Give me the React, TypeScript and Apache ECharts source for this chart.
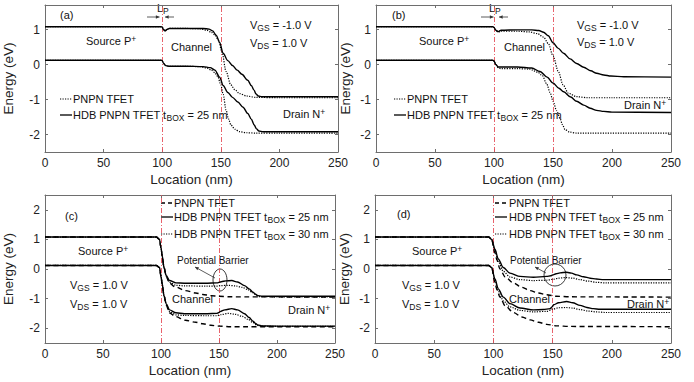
import React, { useEffect, useRef } from "react";
import * as echarts from "echarts";

const FONT = '"Liberation Sans", Arial, Helvetica, sans-serif';

// ---------------- data (Location nm, Energy eV) ----------------
// Panel (a)
const aHdbCbX = [0, 99, 100, 101, 102.5, 104, 106, 120, 135, 140, 143, 146, 149, 152, 156, 160, 164, 168, 173, 176, 178.5, 180, 182, 185, 200, 250];
const aHdbCbY = [1.08, 1.08, 1.07, 1.0, 0.96, 1.0, 1.03, 1.03, 1.03, 1.01, 0.96, 0.84, 0.63, 0.32, 0.11, -0.03, -0.16, -0.28, -0.45, -0.6, -0.74, -0.84, -0.9, -0.92, -0.92, -0.92];
const aPnCbX = [0, 99, 100, 101, 102.5, 104, 106, 120, 132, 138, 142, 145, 148, 151, 154.5, 158.5, 162, 166, 172, 180, 200, 250];
const aPnCbY = [1.08, 1.08, 1.07, 1.0, 0.96, 1.0, 1.03, 1.03, 1.02, 0.98, 0.92, 0.84, 0.7, 0.35, -0.2, -0.58, -0.72, -0.83, -0.9, -0.94, -0.95, -0.95];
const aHdbVbX = [0, 99, 100, 101, 102.5, 104, 106, 120, 135, 141, 145, 149, 152, 156, 160, 164.5, 169, 173, 176, 178.5, 180.5, 182.5, 186, 200, 250];
const aHdbVbY = [0.12, 0.12, 0.11, 0.04, -0.02, -0.04, -0.05, -0.05, -0.06, -0.09, -0.16, -0.36, -0.6, -0.8, -0.94, -1.07, -1.22, -1.4, -1.56, -1.73, -1.84, -1.9, -1.92, -1.92, -1.92];
const aPnVbX = [0, 99, 100, 101, 102.5, 104, 106, 120, 132, 138, 142, 145, 147.5, 150, 152, 154.5, 156.5, 158.7, 162, 166, 172, 180, 200, 250];
const aPnVbY = [0.12, 0.12, 0.11, 0.04, -0.02, -0.04, -0.05, -0.05, -0.06, -0.1, -0.16, -0.24, -0.35, -0.58, -0.85, -1.3, -1.55, -1.73, -1.85, -1.92, -1.95, -1.96, -1.96, -1.96];

// Panel (b)
const bHdbCbX = [0, 99, 100, 101.5, 103.5, 106, 120, 132, 138, 142, 146, 150, 154.5, 159, 164.5, 170, 176, 182, 187, 193, 199, 210, 250];
const bHdbCbY = [1.08, 1.08, 1.06, 0.98, 0.94, 0.98, 0.99, 0.99, 0.97, 0.92, 0.82, 0.62, 0.46, 0.32, 0.16, 0.03, -0.08, -0.18, -0.25, -0.3, -0.33, -0.35, -0.36];
const bPnCbX = [0, 99, 100, 101.5, 103.5, 106, 120, 130, 137, 142, 146, 150, 154.5, 158.5, 163, 170, 180, 200, 250];
const bPnCbY = [1.08, 1.08, 1.06, 0.98, 0.93, 0.95, 0.95, 0.93, 0.88, 0.78, 0.6, 0.25, -0.2, -0.58, -0.82, -0.92, -0.95, -0.95, -0.95];
const bHdbVbX = [0, 99, 100, 101.5, 103.5, 106, 120, 132, 139, 145, 150, 155, 159, 165, 170, 176, 181.5, 187, 193, 200, 250];
const bHdbVbY = [0.12, 0.12, 0.1, 0.0, -0.07, -0.07, -0.07, -0.1, -0.2, -0.36, -0.53, -0.68, -0.78, -0.93, -1.05, -1.16, -1.25, -1.31, -1.34, -1.36, -1.37];
const bPnVbX = [0, 99, 100, 101.5, 103.5, 106, 120, 130, 137, 141, 144.6, 147.5, 150.2, 153, 155.9, 158, 160.2, 164, 170, 250];
const bPnVbY = [0.12, 0.12, 0.1, 0.0, -0.09, -0.12, -0.12, -0.13, -0.22, -0.32, -0.55, -0.8, -1.06, -1.32, -1.53, -1.72, -1.86, -1.93, -1.96, -1.96];

// Panel (c)
const cPnCbX = [0, 96, 98.7, 100, 101, 102.6, 104.5, 107.3, 112, 121, 130, 136, 143, 150, 160, 250];
const cPnCbY = [1.08, 1.08, 1.0, 0.72, 0.45, 0.05, -0.25, -0.48, -0.6, -0.73, -0.81, -0.86, -0.9, -0.92, -0.94, -0.95];
const c25CbX = [0, 96, 98.7, 100, 101, 102.6, 104.5, 107.3, 112.9, 120, 140, 148, 152, 156, 161, 166, 172, 176, 179.2, 181.5, 183.5, 187, 200, 250];
const c25CbY = [1.08, 1.08, 1.0, 0.72, 0.45, 0.05, -0.22, -0.39, -0.47, -0.48, -0.48, -0.47, -0.43, -0.4, -0.39, -0.44, -0.56, -0.67, -0.78, -0.85, -0.9, -0.92, -0.92, -0.92];
const c30CbX = [0, 96, 98.7, 100, 101, 102.6, 104.5, 107.3, 112.9, 120, 140, 148, 152, 158, 164, 170, 175, 179, 182, 185, 200, 250];
const c30CbY = [1.08, 1.08, 1.0, 0.72, 0.45, 0.05, -0.25, -0.45, -0.55, -0.57, -0.58, -0.58, -0.56, -0.55, -0.57, -0.62, -0.7, -0.8, -0.88, -0.93, -0.94, -0.94];
const cPnVbX = [0, 96, 98.7, 100, 101, 102.6, 104.5, 107.3, 112, 121, 130, 136, 143, 150, 160, 250];
const cPnVbY = [0.12, 0.12, 0.05, -0.25, -0.5, -0.9, -1.22, -1.48, -1.6, -1.73, -1.8, -1.85, -1.9, -1.93, -1.95, -1.95];
const c25VbX = [0, 96, 98.7, 100, 101, 102.6, 104.5, 107.3, 112.9, 120, 140, 148, 149.5, 151, 155, 161, 166, 172, 176, 179.2, 181.5, 183.5, 187, 200, 250];
const c25VbY = [0.12, 0.12, 0.05, -0.25, -0.5, -0.9, -1.17, -1.38, -1.48, -1.51, -1.51, -1.5, -1.48, -1.44, -1.38, -1.34, -1.38, -1.51, -1.64, -1.76, -1.84, -1.89, -1.92, -1.93, -1.93];
const c30VbX = [0, 96, 98.7, 100, 101, 102.6, 104.5, 107.3, 112.9, 120, 140, 148, 152, 158, 164, 170, 175, 179, 182, 185, 200, 250];
const c30VbY = [0.12, 0.12, 0.05, -0.25, -0.5, -0.9, -1.2, -1.44, -1.55, -1.57, -1.58, -1.58, -1.54, -1.5, -1.53, -1.6, -1.7, -1.8, -1.88, -1.93, -1.94, -1.94];

// Panel (d)
const dPnCbX = [0, 96, 98.5, 101.3, 103, 105.5, 110, 116.9, 124, 131, 138, 145, 153, 165, 250];
const dPnCbY = [1.08, 1.08, 1.0, 0.55, 0.3, 0.0, -0.27, -0.47, -0.62, -0.73, -0.81, -0.87, -0.92, -0.94, -0.95];
const d25CbX = [0, 96, 98.5, 101.3, 104.1, 108.4, 114, 122.5, 133.8, 145, 148.5, 150, 153, 156.3, 161.9, 166, 170.4, 176, 181.7, 187, 193, 200, 250];
const d25CbY = [1.08, 1.08, 1.0, 0.67, 0.34, 0.05, -0.14, -0.25, -0.28, -0.25, -0.23, -0.2, -0.16, -0.13, -0.11, -0.14, -0.2, -0.26, -0.31, -0.34, -0.36, -0.36, -0.36];
const d30CbX = [0, 96, 98.5, 101.3, 104.1, 108.4, 114, 122.5, 133.8, 145, 150, 155, 161, 167, 173, 180, 187, 195, 250];
const d30CbY = [1.08, 1.08, 1.0, 0.62, 0.25, -0.08, -0.27, -0.36, -0.39, -0.38, -0.35, -0.31, -0.29, -0.31, -0.36, -0.41, -0.45, -0.47, -0.47];
const dPnVbX = [0, 96, 98.5, 101.3, 103, 105.5, 110, 116.9, 124, 131, 138, 145, 153, 165, 250];
const dPnVbY = [0.12, 0.12, 0.05, -0.45, -0.7, -0.95, -1.25, -1.47, -1.62, -1.72, -1.8, -1.87, -1.92, -1.94, -1.95];
const d25VbX = [0, 96, 98.5, 101.3, 104.1, 108.4, 114, 122.5, 133.8, 142, 148, 149.5, 151, 155, 161.9, 167, 173.2, 179, 184.4, 190, 200, 250];
const d25VbY = [0.12, 0.12, 0.05, -0.34, -0.67, -0.95, -1.17, -1.32, -1.38, -1.37, -1.34, -1.28, -1.21, -1.14, -1.1, -1.14, -1.23, -1.3, -1.34, -1.36, -1.36, -1.36];
const d30VbX = [0, 96, 98.5, 101.3, 104.1, 108.4, 114, 122.5, 133.8, 145, 150, 155, 161, 167, 173, 180, 187, 195, 250];
const d30VbY = [0.12, 0.12, 0.05, -0.38, -0.75, -1.08, -1.28, -1.4, -1.45, -1.43, -1.36, -1.31, -1.3, -1.32, -1.37, -1.42, -1.45, -1.47, -1.47];

const xTicks = [0, 50, 100, 150, 200, 250];
const yTicksTop = [-2, -1, 0, 1];
const yTicksBottom = [-2, -1, 0, 1, 2];
const regionLines = [100, 150];

// ---------------- helpers ----------------
const zip = (xs: number[], ys: number[]) => xs.map((x, i) => [x, ys[i]]);

const SOLID = { type: "solid" as const, width: 1.4 };
const DOTTED = { type: [1.2, 1.3] as any, width: 1.2 };
const DASHED = { type: [5, 3.5] as any, width: 1.4 };

const rich = {
  n: { fontSize: 11, fontFamily: FONT, lineHeight: 14, fill: "#111" },
  s: { fontSize: 8.5, fontFamily: FONT, lineHeight: 6, verticalAlign: "bottom", fill: "#111" },
  p: { fontSize: 8.5, fontFamily: FONT, lineHeight: 6, verticalAlign: "top", fill: "#111" },
  b: { fontSize: 10, fontFamily: FONT, lineHeight: 14, fill: "#111" },
};

const txt = (x: number, y: number, text: string) => ({
  type: "text",
  x,
  y,
  silent: true,
  style: {
    text,
    rich,
    fill: "#111",
    textAlign: "left",
    textVerticalAlign: "middle",
    fontFamily: FONT,
    fontSize: 11,
  },
});

const seg = (x1: number, y1: number, x2: number, y2: number, dash?: number[], w = 1.3) => ({
  type: "line",
  silent: true,
  shape: { x1, y1, x2, y2 },
  style: { stroke: "#000", lineWidth: w, lineDash: dash },
});

const arrow = (x1: number, y1: number, x2: number, y2: number, head = 4) => {
  const a = Math.atan2(y2 - y1, x2 - x1);
  const p1 = [x2 - head * Math.cos(a - 0.45), y2 - head * Math.sin(a - 0.45)];
  const p2 = [x2 - head * Math.cos(a + 0.45), y2 - head * Math.sin(a + 0.45)];
  return [
    { type: "line", silent: true, shape: { x1, y1, x2, y2 }, style: { stroke: "#333", lineWidth: 0.8 } },
    { type: "polygon", silent: true, shape: { points: [[x2, y2], p1, p2] }, style: { fill: "#333" } },
  ];
};

const grids = [
  { left: 42, top: 5, width: 296, height: 147 },
  { left: 376, top: 5, width: 295, height: 147 },
  { left: 40, top: 195, width: 295, height: 148 },
  { left: 375, top: 195, width: 296, height: 148 },
];
const yRanges = [
  [-2.5, 1.7, yTicksTop],
  [-2.5, 1.7, yTicksTop],
  [-2.5, 2.5, yTicksBottom],
  [-2.5, 2.5, yTicksBottom],
];
const yNameGap = [30, 24, 30, 24];

export default function App() {
  const ref = useRef<HTMLDivElement>(null);
  useEffect(() => {
    if (!ref.current) return;
    const chart = echarts.init(ref.current, undefined, { renderer: "svg" });

    const frame = "#6e6e6e";
    const xAxis: any[] = [];
    const yAxis: any[] = [];
    grids.forEach((g, i) => {
      xAxis.push({
        gridIndex: i,
        type: "value",
        min: xTicks[0],
        max: xTicks[xTicks.length - 1],
        interval: 50,
        name: "Location (nm)",
        nameLocation: "middle",
        nameGap: 20,
        nameTextStyle: { fontFamily: FONT, fontSize: 13.5, color: "#222" },
        axisLine: { show: true, onZero: false, lineStyle: { color: frame, width: 1 } },
        axisTick: { show: true, inside: true, length: 3, lineStyle: { color: frame } },
        axisLabel: { fontFamily: FONT, fontSize: 12, color: "#222", margin: 5 },
        splitLine: { show: false },
      });
      xAxis.push({
        gridIndex: i,
        type: "value",
        position: "top",
        min: xTicks[0],
        max: xTicks[xTicks.length - 1],
        interval: 50,
        axisLine: { show: true, onZero: false, lineStyle: { color: frame, width: 1 } },
        axisTick: { show: true, inside: true, length: 3, lineStyle: { color: frame } },
        axisLabel: { show: false },
        splitLine: { show: false },
      });
      const [mn, mx, ticks] = yRanges[i] as [number, number, number[]];
      yAxis.push({
        gridIndex: i,
        type: "value",
        min: mn,
        max: mx,
        name: "Energy (eV)",
        nameLocation: "middle",
        nameGap: yNameGap[i],
        nameTextStyle: { fontFamily: FONT, fontSize: 13.5, color: "#222" },
        axisLine: { show: true, onZero: false, lineStyle: { color: frame, width: 1 } },
        axisTick: { show: true, inside: true, length: 3, lineStyle: { color: frame }, customValues: ticks },
        axisLabel: { fontFamily: FONT, fontSize: 12, color: "#222", margin: 5, customValues: ticks },
        splitLine: { show: false },
      });
      yAxis.push({
        gridIndex: i,
        type: "value",
        position: "right",
        min: mn,
        max: mx,
        axisLine: { show: true, onZero: false, lineStyle: { color: frame, width: 1 } },
        axisTick: { show: true, inside: true, length: 3, lineStyle: { color: frame }, customValues: ticks },
        axisLabel: { show: false, customValues: ticks },
        splitLine: { show: false },
      });
    });

    const mk = (panel: number, xs: number[], ys: number[], ls: any, withMarks = false) => ({
      type: "line",
      xAxisIndex: panel * 2,
      yAxisIndex: panel * 2,
      data: zip(xs, ys),
      showSymbol: false,
      symbol: "none",
      smooth: 0.3,
      smoothMonotone: "x",
      lineStyle: { color: "#000", ...ls },
      silent: true,
      z: 3,
      markLine: withMarks
        ? {
            silent: true,
            symbol: "none",
            label: { show: false },
            lineStyle: { color: "#e5505a", type: [5, 2, 1, 2], width: 0.9 },
            data: regionLines.map((v) => ({ xAxis: v })),
            z: 2,
          }
        : undefined,
    });

    const series = [
      mk(0, aPnCbX, aPnCbY, DOTTED, true),
      mk(0, aPnVbX, aPnVbY, DOTTED),
      mk(0, aHdbCbX, aHdbCbY, SOLID),
      mk(0, aHdbVbX, aHdbVbY, SOLID),
      mk(1, bPnCbX, bPnCbY, DOTTED, true),
      mk(1, bPnVbX, bPnVbY, DOTTED),
      mk(1, bHdbCbX, bHdbCbY, SOLID),
      mk(1, bHdbVbX, bHdbVbY, SOLID),
      mk(2, cPnCbX, cPnCbY, DASHED, true),
      mk(2, cPnVbX, cPnVbY, DASHED),
      mk(2, c25CbX, c25CbY, SOLID),
      mk(2, c25VbX, c25VbY, SOLID),
      mk(2, c30CbX, c30CbY, DOTTED),
      mk(2, c30VbX, c30VbY, DOTTED),
      mk(3, dPnCbX, dPnCbY, DASHED, true),
      mk(3, dPnVbX, dPnVbY, DASHED),
      mk(3, d25CbX, d25CbY, SOLID),
      mk(3, d25VbX, d25VbY, SOLID),
      mk(3, d30CbX, d30CbY, DOTTED),
      mk(3, d30VbX, d30VbY, DOTTED),
    ];

    const g: any[] = [];
    // Panel (a)
    g.push(txt(60, 15, "{n|(a)}"));
    g.push(txt(157, 8, "{n|L}{s|P}"));
    g.push(...arrow(147, 17, 159.5, 17), ...arrow(174, 17, 165, 17));
    g.push(txt(250, 25, "{n|V}{s|GS}{n| = -1.0 V}"));
    g.push(txt(250, 43, "{n|V}{s|DS}{n| = 1.0 V}"));
    g.push(txt(86, 41, "{n|Source P}{p|+}"));
    g.push(txt(171, 47, "{n|Channel}"));
    g.push(txt(283, 114, "{n|Drain N}{p|+}"));
    g.push(seg(60, 99, 72, 99, [1.2, 1.3], 1.2));
    g.push(txt(73, 99, "{n|PNPN TFET}"));
    g.push(seg(60, 115, 72, 115));
    g.push(txt(73, 115, "{n|HDB PNPN TFET t}{s|BOX}{n| = 25 nm}"));
    // Panel (b)
    g.push(txt(392, 15, "{n|(b)}"));
    g.push(txt(489, 8, "{n|L}{s|P}"));
    g.push(...arrow(481, 17, 493.5, 17), ...arrow(508, 17, 499, 17));
    g.push(txt(577, 25, "{n|V}{s|GS}{n| = -1.0 V}"));
    g.push(txt(577, 42, "{n|V}{s|DS}{n| = 1.0 V}"));
    g.push(txt(419, 41, "{n|Source P}{p|+}"));
    g.push(txt(504, 47, "{n|Channel}"));
    g.push(txt(624, 105, "{n|Drain N}{p|+}"));
    g.push(seg(394, 99, 406, 99, [1.2, 1.3], 1.2));
    g.push(txt(407, 99, "{n|PNPN TFET}"));
    g.push(seg(394, 115, 406, 115));
    g.push(txt(407, 115, "{n|HDB PNPN TFET t}{s|BOX}{n| = 25 nm}"));
    // Panel (c)
    g.push(txt(65, 216, "{n|(c)}"));
    g.push(seg(161, 203, 173, 203, [4, 3], 1.3));
    g.push(txt(174, 203, "{n|PNPN TFET}"));
    g.push(seg(161, 217, 173, 217));
    g.push(txt(174, 217, "{n|HDB PNPN TFET t}{s|BOX}{n| = 25 nm}"));
    g.push(seg(161, 234, 173, 234, [1.2, 1.3], 1.2));
    g.push(txt(174, 234, "{n|HDB PNPN TFET t}{s|BOX}{n| = 30 nm}"));
    g.push(txt(78, 251, "{n|Source P}{p|+}"));
    g.push(txt(177, 260, "{b|Potential Barrier}"));
    g.push(...arrow(215, 278, 195, 267));
    g.push({
      type: "ellipse",
      silent: true,
      shape: { cx: 220, cy: 280, rx: 7, ry: 11 },
      style: { fill: "none", stroke: "#222", lineWidth: 0.9 },
    });
    g.push(txt(70, 285, "{n|V}{s|GS}{n| = 1.0 V}"));
    g.push(txt(70, 304, "{n|V}{s|DS}{n| = 1.0 V}"));
    g.push(txt(172, 299, "{n|Channel}"));
    g.push(txt(288, 310, "{n|Drain N}{p|+}"));
    // Panel (d)
    g.push(txt(397, 214, "{n|(d)}"));
    g.push(seg(495, 203, 507, 203, [4, 3], 1.3));
    g.push(txt(509, 203, "{n|PNPN TFET}"));
    g.push(seg(495, 217, 507, 217));
    g.push(txt(509, 217, "{n|HDB PNPN TFET t}{s|BOX}{n| = 25 nm}"));
    g.push(seg(495, 234, 507, 234, [1.2, 1.3], 1.2));
    g.push(txt(509, 234, "{n|HDB PNPN TFET t}{s|BOX}{n| = 30 nm}"));
    g.push(txt(412, 251, "{n|Source P}{p|+}"));
    g.push(txt(510, 260, "{b|Potential Barrier}"));
    g.push(...arrow(546, 273, 535, 267));
    g.push({
      type: "circle",
      silent: true,
      shape: { cx: 555, cy: 275, r: 11 },
      style: { fill: "none", stroke: "#222", lineWidth: 0.9 },
    });
    g.push(txt(402, 285, "{n|V}{s|GS}{n| = 1.0 V}"));
    g.push(txt(402, 304, "{n|V}{s|DS}{n| = 1.0 V}"));
    g.push(txt(509, 299, "{n|Channel}"));
    g.push(txt(627, 304, "{n|Drain N}{p|+}"));

    chart.setOption({
      animation: false,
      backgroundColor: "#ffffff",
      grid: grids.map((gr) => ({ ...gr, containLabel: false })),
      xAxis,
      yAxis,
      series,
      graphic: { elements: g },
    });
    return () => chart.dispose();
  }, []);

  return (
    <div
      ref={ref}
      style={{ position: "absolute", left: 0, top: 0, width: 694, height: 382 }}
    />
  );
}
